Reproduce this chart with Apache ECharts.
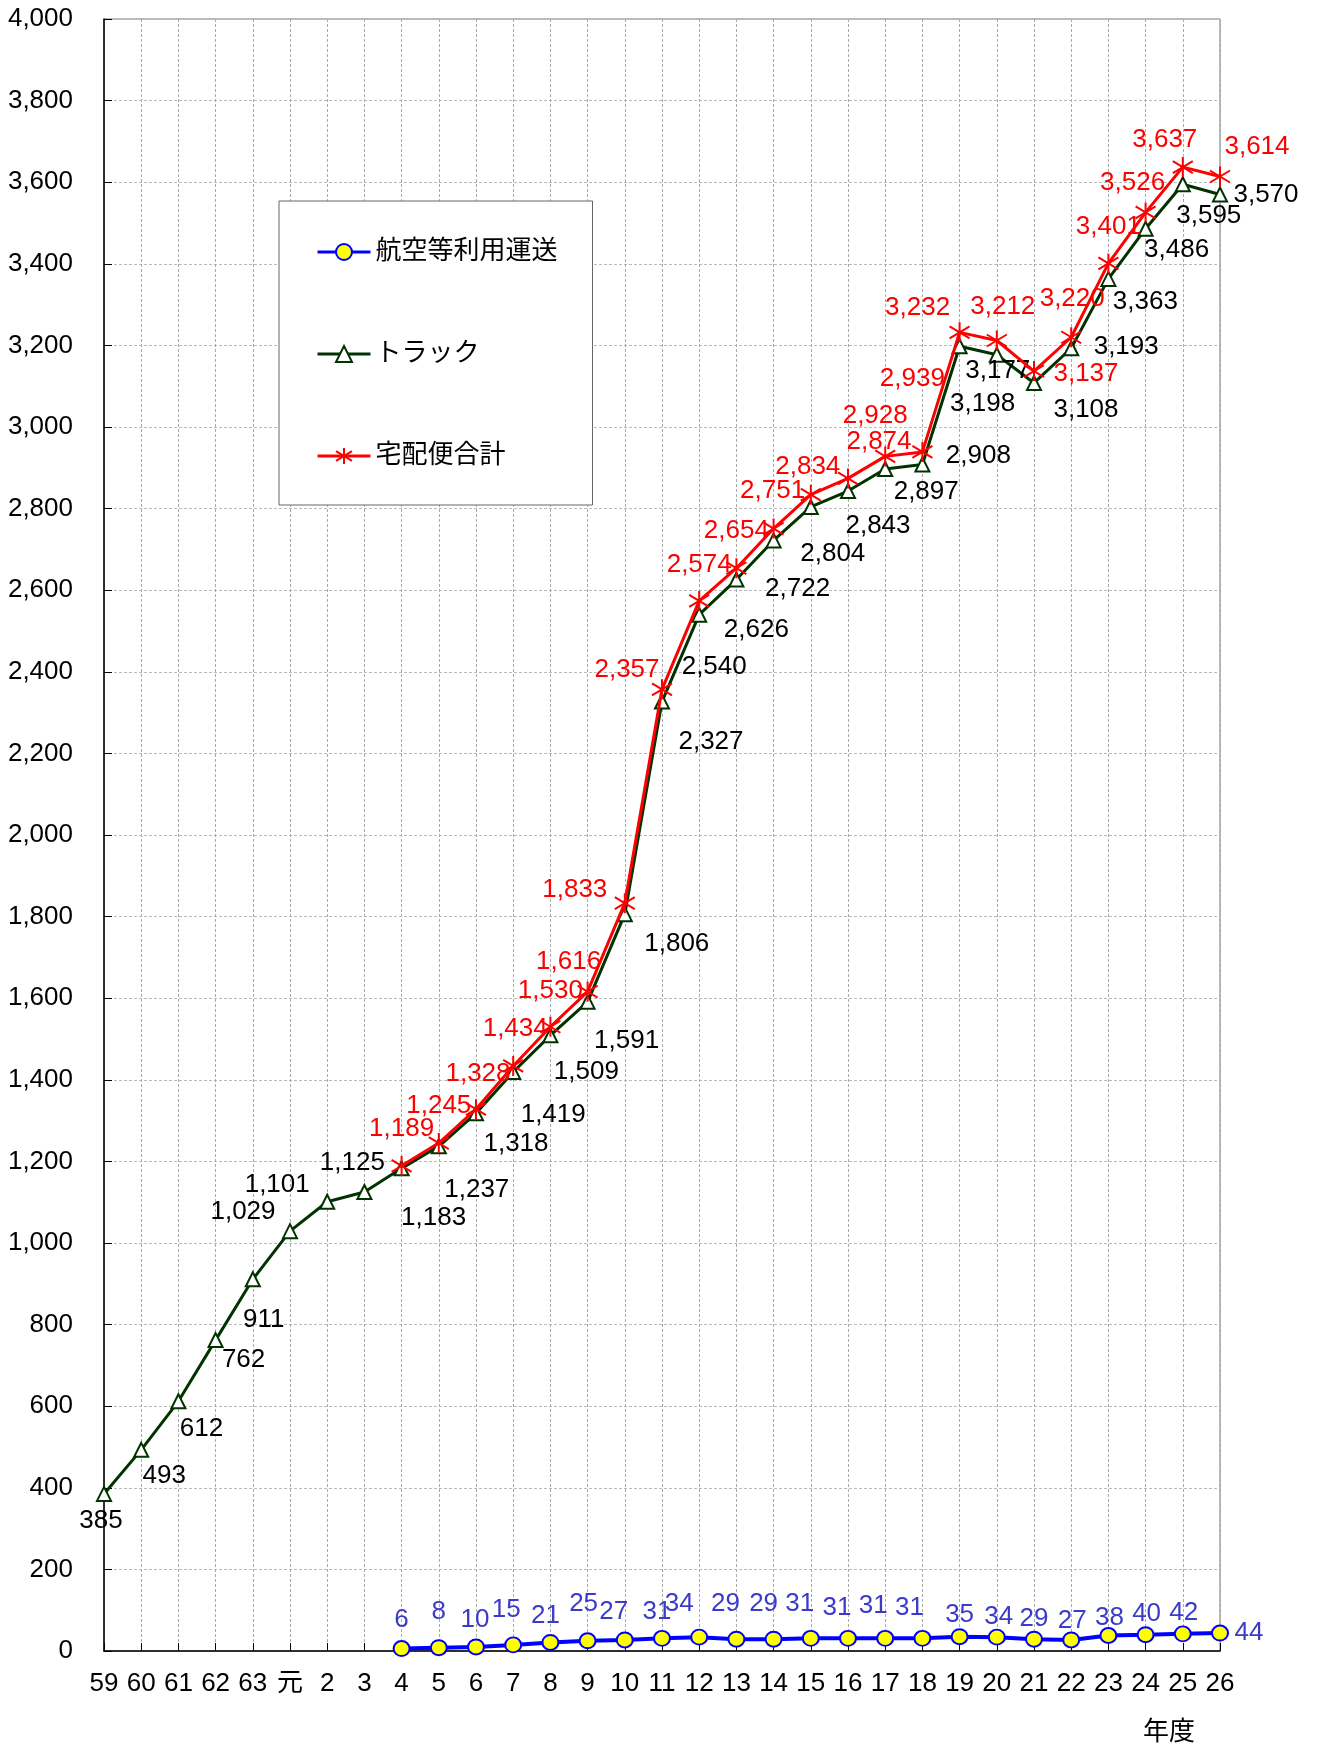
<!DOCTYPE html>
<html><head><meta charset="utf-8">
<script src="https://cdn.jsdelivr.net/npm/echarts@6/dist/echarts.min.js"></script>
<style>html,body{margin:0;padding:0;background:#fff}#c{width:1317px;height:1751px}</style>
</head><body><div id="c"></div>
<script>
// ---- data ----
const categories = ['59','60','61','62','63','元','2','3','4','5','6','7','8','9','10','11','12','13','14','15','16','17','18','19','20','21','22','23','24','25','26'];
const truck = [385,493,612,762,911,1029,1101,1125,1183,1237,1318,1419,1509,1591,1806,2327,2540,2626,2722,2804,2843,2897,2908,3198,3177,3108,3193,3363,3486,3595,3570];
// from year 4 onward
const total = [1189,1245,1328,1434,1530,1616,1833,2357,2574,2654,2751,2834,2874,2928,2939,3232,3212,3137,3220,3401,3526,3637,3614];
const air = [6,8,10,15,21,25,27,31,34,29,29,31,31,31,31,35,34,29,27,38,40,42,44];
const seriesNames = ['航空等利用運送','トラック','宅配便合計'];
const yMin = 0, yMax = 4000, yStep = 200;

// ---- label placement (style) ----
const truckOff = [[-3,27],[23,26],[23,28],[28,20],[11,41],[-47,-19],[-50,-17],[-12,-29],[32,49],[38,44],[40,31],[40,43],[36,37],[39,39],[52,30],[49,40],[15,52],[20,50],[24,48],[22,47],[30,35],[41,23],[56,-9],[23,58],[1,16],[52,27],[55,-1],[37,23],[31,21],[26,32],[46,0]];
const totalOff = [[0,-37],[0,-37],[2,-35],[2,-37],[0,-36],[-19,-30],[-50,-13],[-35,-20],[0,-36],[0,-37],[-1,-38],[-3,-28],[31,-37],[-10,-41],[-10,-73],[-42,-25],[6,-34],[52,3],[1,-38],[0,-37],[-13,-30],[-18,-27],[37,-30]];
const airOff = [[0,-29],[0,-36],[-1,-27],[-7,-35],[-5,-27],[-4,-37],[-11,-28],[-5,-27],[-20,-33],[-11,-35],[-10,-35],[-11,-35],[-11,-31],[-12,-33],[-13,-31],[0,-22],[2,-20],[0,-20],[1,-19],[1,-18],[1,-21],[1,-21],[29,0]];

const FONT = '"Liberation Sans", "Noto Sans CJK JP", sans-serif';
const pad = categories.length - total.length;
function build(vals, offs, lead) {
  const out = [];
  for (let i = 0; i < lead; i++) out.push(null);
  vals.forEach((v, i) => out.push({ value: v, label: { offset: offs[i] } }));
  return out;
}
const fmt = p => Number(p.value).toLocaleString('en-US');
const star = 'path://M9,0 L9,20 M1,4 L17,16 M1,16 L17,4';

const chart = echarts.init(document.getElementById('c'), null, { renderer: 'canvas' });
chart.setOption({
  animation: false,
  backgroundColor: '#fff',
  grid: { left: 104, right: 97, top: 19, bottom: 100, show: true, borderColor: '#777', borderWidth: 1 },
  legend: {
    data: seriesNames,
    orient: 'vertical',
    left: 279, top: 201,
    padding: [36, 35, 34, 37],
    itemGap: 72,
    itemWidth: 53, itemHeight: 20,
    backgroundColor: '#fff',
    borderColor: '#666', borderWidth: 1,
    lineStyle: { width: 3 },
    itemStyle: { borderWidth: 2 },
    textStyle: { fontSize: 26, fontFamily: FONT, color: '#000', lineHeight: 30 }
  },
  xAxis: {
    type: 'category', data: categories, boundaryGap: false,
    axisLine: { lineStyle: { color: '#000', width: 1.5 } },
    axisTick: { show: true, inside: true, length: 8, alignWithLabel: true, lineStyle: { color: '#000' } },
    axisLabel: { fontSize: 26, fontFamily: FONT, color: '#000', margin: 20, interval: 0 },
    splitLine: { show: true, lineStyle: { color: '#aaa', type: [3, 2], width: 1 } }
  },
  yAxis: {
    type: 'value', min: yMin, max: yMax, interval: yStep,
    axisLine: { show: true, lineStyle: { color: '#000', width: 1.5 } },
    axisTick: { show: true, inside: true, length: 8, lineStyle: { color: '#000' } },
    axisLabel: { fontSize: 26, fontFamily: FONT, color: '#000', margin: 31, formatter: v => v.toLocaleString('en-US') },
    splitLine: { show: true, lineStyle: { color: '#bbb', type: [3, 2], width: 1 } }
  },
  graphic: [{
    type: 'text', left: 1143, top: 1720,
    style: { text: '年度', fontSize: 26, fontFamily: FONT, fill: '#000' }
  }],
  series: [
    {
      name: seriesNames[0], type: 'line', data: build(air, airOff, pad),
      symbol: 'circle', symbolSize: [16, 15],
      lineStyle: { color: '#0000ff', width: 4 },
      itemStyle: { color: '#ffff00', borderColor: '#0000ff', borderWidth: 2 },
      label: { show: true, position: 'inside', formatter: fmt, fontSize: 26, fontFamily: FONT, color: '#3b3bc9' },
      z: 3
    },
    {
      name: seriesNames[1], type: 'line', data: build(truck, truckOff, 0),
      symbol: 'triangle', symbolSize: 14,
      lineStyle: { color: '#003300', width: 3 },
      itemStyle: { color: '#ffffff', borderColor: '#003300', borderWidth: 2 },
      label: { show: true, position: 'inside', formatter: fmt, fontSize: 26, fontFamily: FONT, color: '#000' },
      z: 2
    },
    {
      name: seriesNames[2], type: 'line', data: build(total, totalOff, pad),
      symbol: star, symbolSize: 20,
      lineStyle: { color: '#ff0000', width: 3 },
      itemStyle: { color: 'none', borderColor: '#ff0000', borderWidth: 2 },
      label: { show: true, position: 'inside', formatter: fmt, fontSize: 26, fontFamily: FONT, color: '#ff0000' },
      z: 4
    }
  ]
});
</script></body></html>
